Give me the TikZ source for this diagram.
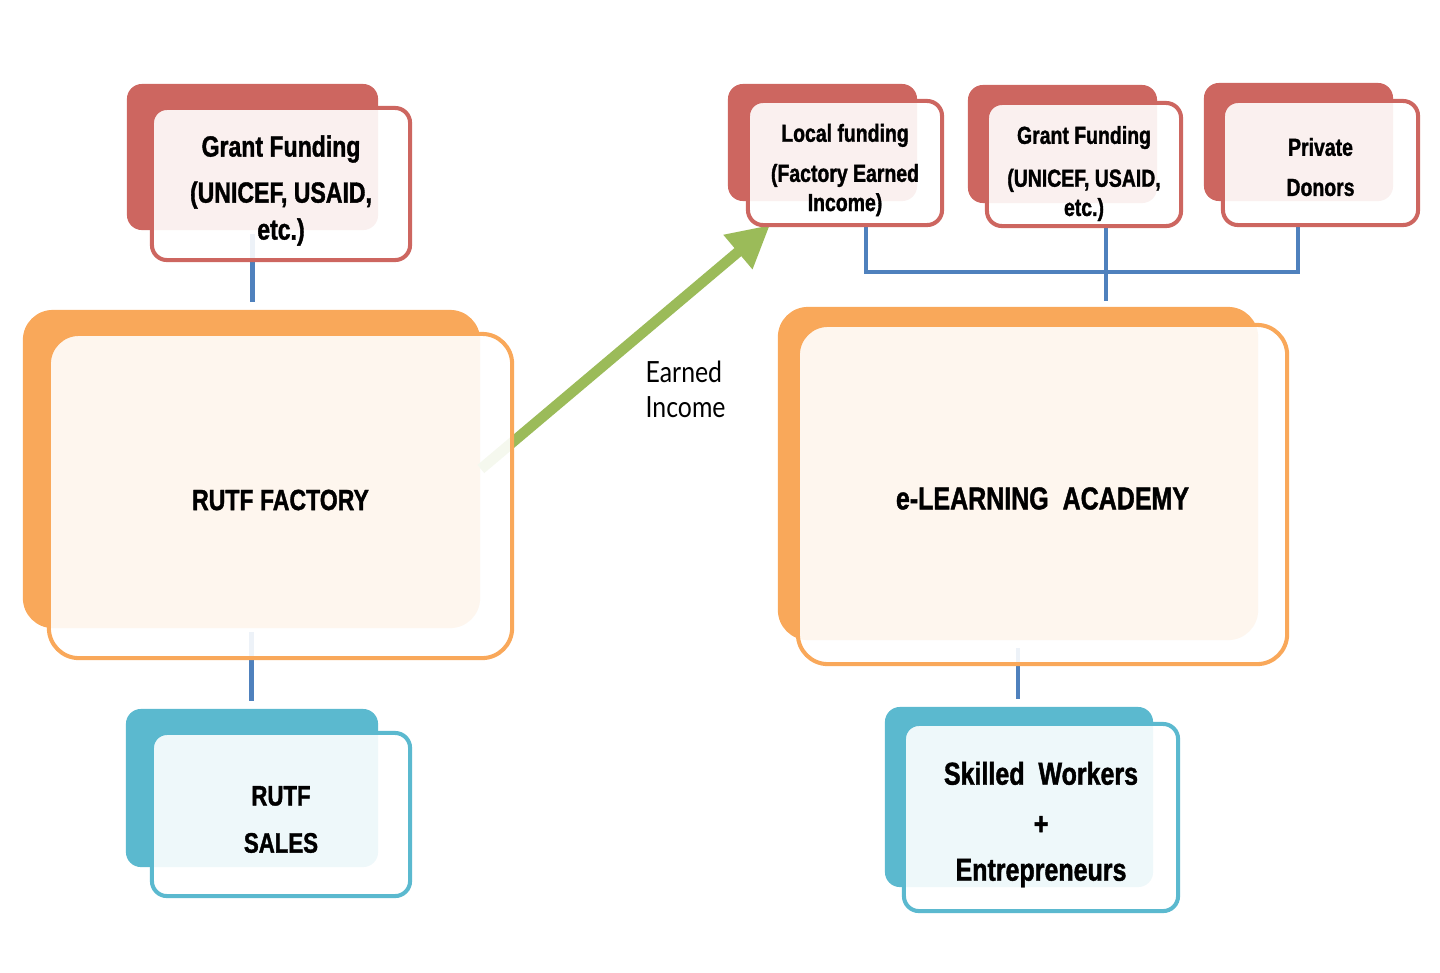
\documentclass[tikz,border=0pt]{standalone}
\usepackage{fontspec}
\usetikzlibrary{arrows.meta}
\newfontfamily\boxfont[FakeStretch=0.79,FakeBold=1.3]{Liberation Sans}
\newfontfamily\lblfont[FakeStretch=0.85]{Lato}
\definecolor{fundred}{RGB}{205,102,96}
\definecolor{factorange}{RGB}{249,168,90}
\definecolor{salescyan}{RGB}{91,185,207}
\definecolor{linkblue}{RGB}{79,129,189}
\definecolor{incomegreen}{RGB}{155,187,89}

\begin{document}
\begin{tikzpicture}[x=0.01cm,y=-0.01cm,
  backbox/.style={fill=#1,rounded corners=0.15cm,inner sep=0pt},
  frontbox/.style={draw=#1,line width=1.15pt,fill=white,fill opacity=0.9,
    rounded corners=0.15cm,inner sep=0pt},
  bigbox/.style={rounded corners=0.3cm},
  link/.style={draw=linkblue,line width=1.4pt},
  income/.style={draw=incomegreen,line width=3pt,-{Triangle[length=0.42cm,width=0.42cm]}},
  boxtext/.style={inner sep=0pt,align=center,font=\boxfont\bfseries\fontsize{#1}{13.1}\selectfont}]
\useasboundingbox (0,0) rectangle (1440,972);
\node[backbox=fundred,minimum width=2.51cm,minimum height=1.46cm] (grantLb) at (252.5,157) {};
\node[backbox=factorange,bigbox,minimum width=4.57cm,minimum height=3.18cm] (factoryb) at (251.5,469) {};
\node[backbox=salescyan,minimum width=2.52cm,minimum height=1.58cm] (salesb) at (252,788) {};
\node[backbox=fundred,minimum width=1.89cm,minimum height=1.17cm] (localb) at (822.5,142.5) {};
\node[backbox=fundred,minimum width=1.89cm,minimum height=1.18cm] (grantRb) at (1062.5,144) {};
\node[backbox=fundred,minimum width=1.89cm,minimum height=1.18cm] (donorb) at (1298.5,142) {};
\node[backbox=factorange,bigbox,minimum width=4.80cm,minimum height=3.33cm] (academyb) at (1018,473.5) {};
\node[backbox=salescyan,minimum width=2.68cm,minimum height=1.80cm] (skilledb) at (1019,797) {};
\coordinate (busL) at (866,272);
\coordinate (busM) at (1106,272);
\coordinate (busR) at (1298,272);
\draw[link,shorten <=1pt,shorten >=2pt] (grantLb.south) -- (grantLb.south |- factoryb.north);
\draw[link,shorten <=1pt,shorten >=2pt] (factoryb.south) -- (factoryb.south |- salesb.north);
\draw[link,shorten <=2pt,shorten >=2pt] (academyb.south) -- (academyb.south |- skilledb.north);
\draw[link] (busL |- 0,227) -- (busL) -- (busR) -- (busR |- 0,227);
\draw[link,shorten >=1.4pt] (busM |- 0,228) -- (busM |- academyb.north);
\draw[income] (factoryb.east) -- (770,225);
\node[frontbox=fundred,minimum width=2.58cm,minimum height=1.52cm] (grantLf) at (281,184) {};
\node[frontbox=factorange,bigbox,minimum width=4.63cm,minimum height=3.24cm] (factoryf) at (280.5,496) {};
\node[frontbox=salescyan,minimum width=2.58cm,minimum height=1.63cm] (salesf) at (281,814.5) {};
\node[frontbox=fundred,minimum width=1.94cm,minimum height=1.24cm] (localf) at (845,163) {};
\node[frontbox=fundred,minimum width=1.94cm,minimum height=1.23cm] (grantRf) at (1084,164.5) {};
\node[frontbox=fundred,minimum width=1.95cm,minimum height=1.24cm] (donorf) at (1320.5,163) {};
\node[frontbox=factorange,bigbox,minimum width=4.89cm,minimum height=3.39cm] (academyf) at (1042.5,494.5) {};
\node[frontbox=salescyan,minimum width=2.74cm,minimum height=1.87cm] (skilledf) at (1041,817.5) {};
\node[boxtext=8.3] (grantLt) at ([yshift=-0.065cm]grantLf.center)
  {Grant Funding\\(UNICEF, USAID,\\[-2.6pt]etc.)};
\node[boxtext=8.3] (factoryt) at ([yshift=-0.04cm]factoryf.center) {RUTF FACTORY};
\node[boxtext=8] (salest) at ([yshift=-0.05cm]salesf.center) {RUTF\\[0.3pt]SALES};
\node[boxtext=7] (localt) at ([yshift=-0.07cm]localf.center)
  {Local funding\\[-1.7pt](Factory Earned\\[-4.8pt]Income)};
\node[boxtext=7] (grantRt) at ([yshift=-0.09cm]grantRf.center)
  {Grant Funding\\[-0.9pt](UNICEF, USAID,\\[-4.8pt]etc.)};
\node[boxtext=7] (donort) at ([yshift=-0.04cm]donorf.center) {Private\\[-1.7pt]Donors};
\node[boxtext=9] (academyt) at ([yshift=-0.04cm]academyf.center) {e-LEARNING~~ACADEMY};
\node[boxtext=9] (skilledt) at ([yshift=-0.07cm]skilledf.center)
  {Skilled~~Workers\\[1.1pt]+\\Entrepreneurs};
\node[anchor=west,align=left,inner sep=0pt,font=\lblfont\fontsize{8.3}{10}\selectfont] (earned) at (645,389)
  {Earned\\Income};
\end{tikzpicture}
\end{document}
